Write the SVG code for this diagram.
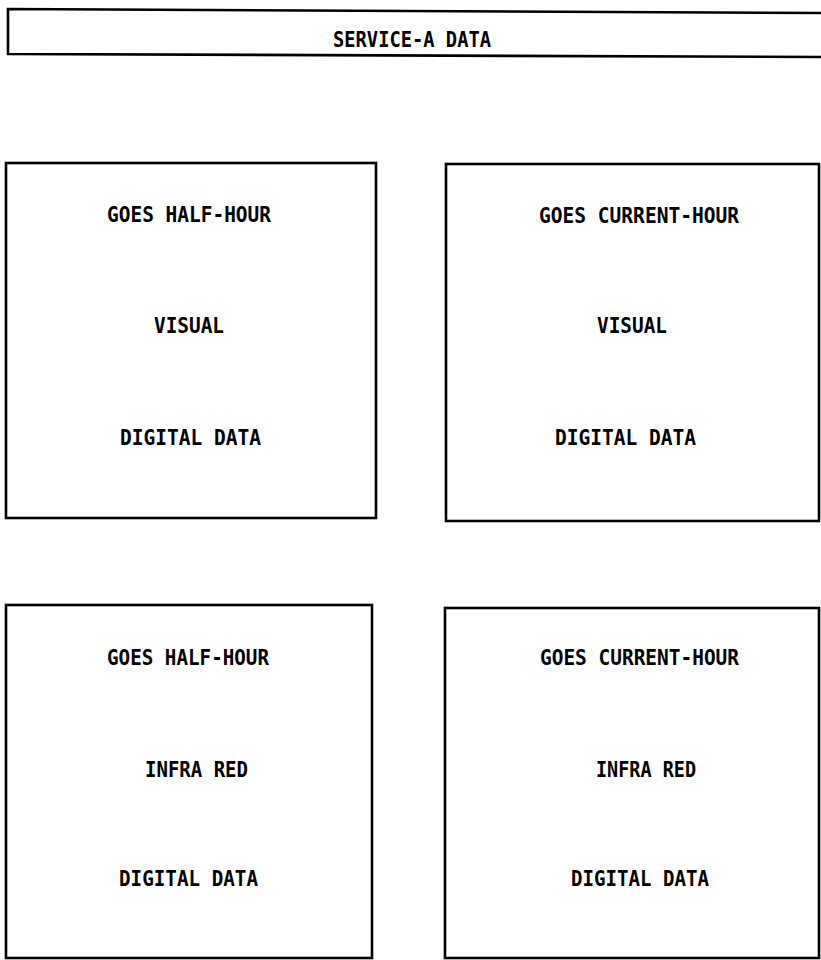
<svg xmlns="http://www.w3.org/2000/svg" width="821" height="960" viewBox="0 0 821 960">
<style>
.box{fill:#fff;stroke:#000;stroke-width:2.6}
.t{font-family:"DejaVu Sans Mono","Liberation Mono",monospace;font-weight:bold;font-size:21px;fill:#000}
</style>
<rect width="821" height="960" fill="#fff"/>
<g id="service-a">
<path class="box" d="M8 9 L823 13 L823 57 L8 54 Z"/>
<text class="t" x="333" y="47" textLength="158" lengthAdjust="spacingAndGlyphs" font-size="22">SERVICE-A DATA</text>
</g>
<g id="half-hour-visual">
<rect class="box" x="6" y="163" width="370" height="355"/>
<text class="t" x="107" y="222" textLength="164" lengthAdjust="spacingAndGlyphs">GOES HALF-HOUR</text>
<text class="t" x="154" y="333" textLength="70" lengthAdjust="spacingAndGlyphs">VISUAL</text>
<text class="t" x="120" y="445" textLength="141" lengthAdjust="spacingAndGlyphs">DIGITAL DATA</text>
</g>
<g id="current-hour-visual">
<rect class="box" x="446" y="164" width="373" height="357"/>
<text class="t" x="539" y="223" textLength="200" lengthAdjust="spacingAndGlyphs">GOES CURRENT-HOUR</text>
<text class="t" x="597" y="333" textLength="70" lengthAdjust="spacingAndGlyphs">VISUAL</text>
<text class="t" x="555" y="445" textLength="141" lengthAdjust="spacingAndGlyphs">DIGITAL DATA</text>
</g>
<g id="half-hour-infrared">
<rect class="box" x="6" y="605" width="366" height="353"/>
<text class="t" x="107" y="665" textLength="162" lengthAdjust="spacingAndGlyphs">GOES HALF-HOUR</text>
<text class="t" x="145" y="777" textLength="103" lengthAdjust="spacingAndGlyphs">INFRA RED</text>
<text class="t" x="119" y="886" textLength="139" lengthAdjust="spacingAndGlyphs">DIGITAL DATA</text>
</g>
<g id="current-hour-infrared">
<rect class="box" x="445" y="608" width="374" height="350"/>
<text class="t" x="540" y="665" textLength="199" lengthAdjust="spacingAndGlyphs">GOES CURRENT-HOUR</text>
<text class="t" x="596" y="777" textLength="100" lengthAdjust="spacingAndGlyphs">INFRA RED</text>
<text class="t" x="571" y="886" textLength="138" lengthAdjust="spacingAndGlyphs">DIGITAL DATA</text>
</g>
<g id="connectors"></g>
</svg>
